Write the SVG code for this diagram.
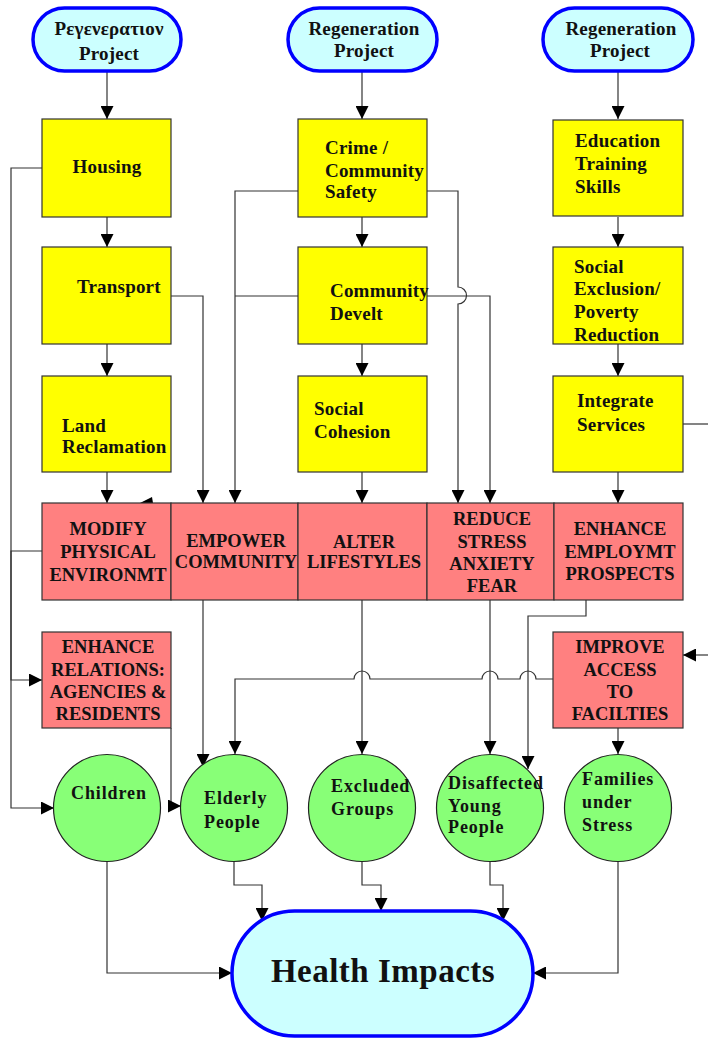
<svg xmlns="http://www.w3.org/2000/svg" width="708" height="1039" viewBox="0 0 708 1039">
<style>
.oval{fill:#CCFFFF;stroke:#0000FF;stroke-width:3.5}
.ybox{fill:#FFFF00;stroke:#333;stroke-width:1.2}
.rbox{fill:#FF8080;stroke:#333;stroke-width:1.2}
.circ{fill:#88FF77;stroke:#222;stroke-width:1.2}
text{font-family:"Liberation Serif","Times New Roman",serif;font-weight:bold;fill:#111}
.t{font-size:19px;letter-spacing:0.2px}
.r{font-size:18.5px;text-anchor:middle}
.c{font-size:18px;letter-spacing:0.9px}
.m{text-anchor:middle}
.h{font-size:33px;text-anchor:middle;letter-spacing:0.5px}
.ln{fill:none;stroke:#333;stroke-width:1.2}
.a{marker-end:url(#arr)}
</style>
<defs>
<marker id="arr" viewBox="0 0 13 13" refX="13" refY="6.5" markerWidth="13" markerHeight="13" markerUnits="userSpaceOnUse" orient="auto">
<path d="M0,0 L13,6.5 L0,13 z" fill="#000"/>
</marker>
</defs>
<rect width="708" height="1039" fill="#fff"/>

<g id="connectors">
<path class="ln a" d="M107,71 V119"/>
<path class="ln a" d="M362,71 V119"/>
<path class="ln a" d="M618,71 V119"/>
<path class="ln a" d="M107,217 V247"/>
<path class="ln a" d="M107,344 V376"/>
<path class="ln a" d="M107,472 V503"/>
<path class="ln a" d="M362,217 V247"/>
<path class="ln a" d="M362,344 V376"/>
<path class="ln a" d="M362,472 V503"/>
<path class="ln a" d="M618,217 V247"/>
<path class="ln a" d="M618,344 V376"/>
<path class="ln a" d="M618,472 V503"/>
<path class="ln a" d="M42,168 H11 V808 H54"/>
<path class="ln a" d="M42,551 H11 V680 H42"/>
<path class="ln a" d="M171,296 H203 V503"/>
<path class="ln a" d="M298,191 H235 V503"/>
<path class="ln" d="M298,296 H235"/>
<path class="ln a" d="M427,191 H458 V287 A8.5,8.5 0 0 1 458,304 V503"/>
<path class="ln a" d="M427,296 H490 V503"/>
<path class="ln" d="M683,424 H708"/>
<path class="ln a" d="M708,655 H683"/>
<path class="ln a" d="M203,600 V767"/>
<path class="ln a" d="M171,728 V806 H181"/>
<path class="ln a" d="M553,679 H536 A8,8 0 0 0 520,679 H498 A8,8 0 0 0 482,679 H370 A8,8 0 0 0 354,679 H235 V754"/>
<path class="ln a" d="M362,600 V754"/>
<path class="ln a" d="M490,600 V754"/>
<path class="ln a" d="M586,600 V616 H528 V769"/>
<path class="ln a" d="M618,728 V754"/>
<path class="ln a" d="M107,861 V973 H232"/>
<path class="ln a" d="M234,861 V885 H262 V921"/>
<path class="ln a" d="M362,861 V885 H381 V911"/>
<path class="ln a" d="M490,861 V885 H503 V921"/>
<path class="ln a" d="M618,861 V973 H533"/>
<polygon points="140,503 152,497 153,503" fill="#000"/>
</g>

<g id="project1">
<rect class="oval" x="33" y="8" width="148" height="63" rx="31.5"/>
<text class="t m" x="109" y="35">Ρεγενερατιον</text>
<text class="t m" x="109" y="60">Project</text>
</g>
<g id="project2">
<rect class="oval" x="288" y="8" width="149" height="63" rx="31.5"/>
<text class="t m" x="364" y="35">Regeneration</text>
<text class="t m" x="364" y="57">Project</text>
</g>
<g id="project3">
<rect class="oval" x="543" y="8" width="150" height="63" rx="31.5"/>
<text class="t m" x="621" y="35">Regeneration</text>
<text class="t m" x="620" y="57">Project</text>
</g>

<g id="housing">
<rect class="ybox" x="42" y="119" width="129" height="98"/>
<text class="t m" x="107" y="173">Housing</text>
</g>
<g id="transport">
<rect class="ybox" x="42" y="247" width="129" height="97"/>
<text class="t" x="77" y="293">Transport</text>
</g>
<g id="land">
<rect class="ybox" x="42" y="376" width="129" height="96"/>
<text class="t" x="62" y="432">Land</text>
<text class="t" x="62" y="453">Reclamation</text>
</g>
<g id="crime">
<rect class="ybox" x="298" y="119" width="129" height="98"/>
<text class="t" x="325" y="154">Crime /</text>
<text class="t" x="325" y="177">Community</text>
<text class="t" x="325" y="198">Safety</text>
</g>
<g id="commdev">
<rect class="ybox" x="298" y="247" width="129" height="97"/>
<text class="t" x="330" y="297">Community</text>
<text class="t" x="330" y="320">Develt</text>
</g>
<g id="cohesion">
<rect class="ybox" x="298" y="376" width="129" height="96"/>
<text class="t" x="314" y="415">Social</text>
<text class="t" x="314" y="438">Cohesion</text>
</g>
<g id="education">
<rect class="ybox" x="553" y="120" width="130" height="96"/>
<text class="t" x="575" y="147">Education</text>
<text class="t" x="575" y="170">Training</text>
<text class="t" x="575" y="193">Skills</text>
</g>
<g id="exclusion">
<rect class="ybox" x="553" y="247" width="130" height="97"/>
<text class="t" x="574" y="273">Social</text>
<text class="t" x="574" y="295">Exclusion/</text>
<text class="t" x="574" y="318">Poverty</text>
<text class="t" x="574" y="341">Reduction</text>
</g>
<g id="integrate">
<rect class="ybox" x="553" y="376" width="130" height="96"/>
<text class="t" x="577" y="407">Integrate</text>
<text class="t" x="577" y="431">Services</text>
</g>

<g id="modify">
<rect class="rbox" x="42" y="503" width="129" height="97"/>
<text class="r" x="108" y="535">MODIFY</text>
<text class="r" x="108" y="558">PHYSICAL</text>
<text class="r" x="108" y="581">ENVIRONMT</text>
</g>
<g id="empower">
<rect class="rbox" x="171" y="503" width="127" height="97"/>
<text class="r" x="236" y="547">EMPOWER</text>
<text class="r" x="236" y="568">COMMUNITY</text>
</g>
<g id="alter">
<rect class="rbox" x="298" y="503" width="129" height="97"/>
<text class="r" x="364" y="548">ALTER</text>
<text class="r" x="364" y="568">LIFESTYLES</text>
</g>
<g id="reduce">
<rect class="rbox" x="427" y="503" width="127" height="97"/>
<text class="r" x="492" y="525">REDUCE</text>
<text class="r" x="492" y="548">STRESS</text>
<text class="r" x="492" y="570">ANXIETY</text>
<text class="r" x="492" y="592">FEAR</text>
</g>
<g id="employment">
<rect class="rbox" x="554" y="503" width="129" height="97"/>
<text class="r" x="620" y="535">ENHANCE</text>
<text class="r" x="620" y="558">EMPLOYMT</text>
<text class="r" x="620" y="580">PROSPECTS</text>
</g>
<g id="relations">
<rect class="rbox" x="42" y="632" width="129" height="96"/>
<text class="r" x="108" y="653">ENHANCE</text>
<text class="r" x="108" y="676">RELATIONS:</text>
<text class="r" x="108" y="698">AGENCIES &amp;</text>
<text class="r" x="108" y="720">RESIDENTS</text>
</g>
<g id="access">
<rect class="rbox" x="553" y="632" width="130" height="96"/>
<text class="r" x="620" y="653">IMPROVE</text>
<text class="r" x="620" y="676">ACCESS</text>
<text class="r" x="620" y="698">TO</text>
<text class="r" x="620" y="720">FACILTIES</text>
</g>

<g id="children">
<circle class="circ" cx="107" cy="808" r="53.5"/>
<text class="c" x="71" y="799">Children</text>
</g>
<g id="elderly">
<circle class="circ" cx="234" cy="808" r="53.5"/>
<text class="c" x="204" y="804">Elderly</text>
<text class="c" x="204" y="828">People</text>
</g>
<g id="excluded">
<circle class="circ" cx="362" cy="808" r="53.5"/>
<text class="c" x="331" y="792">Excluded</text>
<text class="c" x="331" y="815">Groups</text>
</g>
<g id="disaffected">
<circle class="circ" cx="490" cy="808" r="53.5"/>
<text class="c" x="448" y="789">Disaffected</text>
<text class="c" x="448" y="812">Young</text>
<text class="c" x="448" y="833">People</text>
</g>
<g id="families">
<circle class="circ" cx="618" cy="808" r="53.5"/>
<text class="c" x="582" y="785">Families</text>
<text class="c" x="582" y="808">under</text>
<text class="c" x="582" y="831">Stress</text>
</g>

<g id="health">
<rect class="oval" x="232" y="911" width="301" height="125" rx="62.5"/>
<text class="h" x="383" y="982">Health Impacts</text>
</g>
</svg>
